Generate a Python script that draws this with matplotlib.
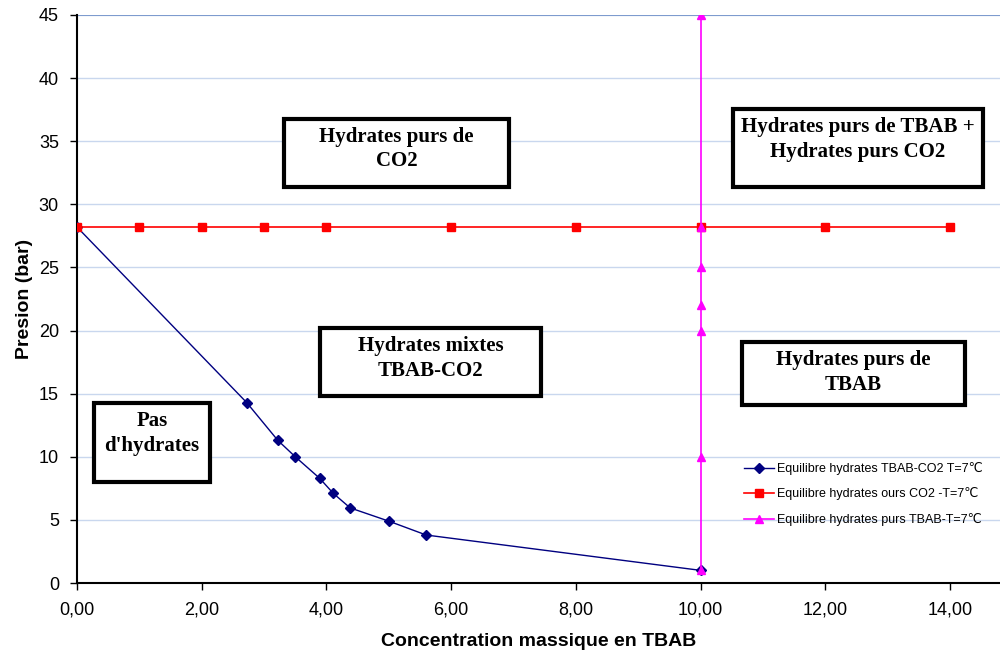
import matplotlib.pyplot as plt
from matplotlib.patches import Rectangle
from matplotlib.ticker import FuncFormatter

# Données d'équilibre à T = 7 °C
x_mixte = [0.0, 2.72, 3.22, 3.5, 3.89, 4.11, 4.38, 5.0, 5.6, 10.0]
p_mixte = [28.2, 14.3, 11.3, 10.0, 8.3, 7.1, 5.95, 4.9, 3.8, 1.0]

x_co2 = [0, 1, 2, 3, 4, 6, 8, 10, 12, 14]
p_co2 = [28.2] * len(x_co2)

x_tbab = [10, 10, 10, 10, 10, 10, 10]
p_tbab = [1.0, 10.0, 20.0, 22.0, 25.0, 28.2, 45.0]

noms = ["Equilibre hydrates TBAB-CO2 T=7\u2103",
        "Equilibre hydrates ours CO2 -T=7\u2103",
        "Equilibre hydrates purs TBAB-T=7\u2103"]

# Zones du diagramme : texte, (x0, y0, x1, y1) en pixels
zones = [
    ("Hydrates purs de\nCO2", (284, 119, 509, 187)),
    ("Hydrates purs de TBAB +\nHydrates purs CO2", (733, 109, 983, 187)),
    ("Hydrates mixtes\nTBAB-CO2", (320, 328, 541, 396)),
    ("Hydrates purs de\nTBAB", (742, 342, 965, 405)),
    ("Pas\nd'hydrates", (94, 403, 210, 482)),
]

sans = ["Liberation Sans", "DejaVu Sans"]

W, H = 1000, 650
fig = plt.figure(figsize=(10, 6.5), dpi=100)
ax = fig.add_axes([77 / W, 1 - 583 / H, 923 / W, 568 / H])

ax.plot(x_mixte, p_mixte, color="#000080", lw=1, marker="D", ms=5, label=noms[0], zorder=3)
ax.plot(x_co2, p_co2, color="#ff0000", lw=1.2, marker="s", ms=6, label=noms[1], zorder=3)
ax.plot(x_tbab, p_tbab, color="#ff00ff", lw=1.2, marker="^", ms=6, label=noms[2], zorder=4)

ax.set_xlim(0, 14.8)
ax.set_ylim(0, 45)
ax.set_xticks(range(0, 15, 2))
ax.set_yticks(range(0, 46, 5))
ax.xaxis.set_major_formatter(FuncFormatter(lambda v, p: f"{v:.2f}".replace(".", ",")))

ax.grid(axis="y", color="#c9d7ee", lw=1)
ax.axhline(45, color="#6f8fc8", lw=1.2, zorder=1)
ax.set_axisbelow(True)
for s in ["top", "right"]:
    ax.spines[s].set_visible(False)
for s in ["left", "bottom"]:
    ax.spines[s].set_linewidth(1.5)
ax.tick_params(direction="out", length=5, width=1, labelsize=13, pad=8)
for lab in ax.get_xticklabels() + ax.get_yticklabels():
    lab.set_family(sans)

ax.set_xlabel("Concentration massique en TBAB", fontsize=14, fontweight="bold",
              family=sans, labelpad=11)
ax.set_ylabel("Presion (bar)", fontsize=14, fontweight="bold",
              family=sans, labelpad=4)

leg = ax.legend(loc="upper left", bbox_to_anchor=(0.71, 0.233), frameon=False,
                prop={"family": sans, "size": 9}, handlelength=2.4,
                labelspacing=1.0, handletextpad=0.3)

# Cadres des zones
for texte, (x0, y0, x1, y1) in zones:
    fig.patches.append(Rectangle((x0 / W, 1 - y1 / H), (x1 - x0) / W, (y1 - y0) / H,
                                 transform=fig.transFigure, fill=True, fc="white",
                                 ec="black", lw=3, zorder=5))
    fig.text((x0 + x1) / 2 / W, 1 - (y0 + 8) / H, texte, ha="center", va="top",
             family="Liberation Serif", fontweight="bold", fontsize=15,
             linespacing=1.3, zorder=6)

fig.savefig("out.png", dpi=100)
